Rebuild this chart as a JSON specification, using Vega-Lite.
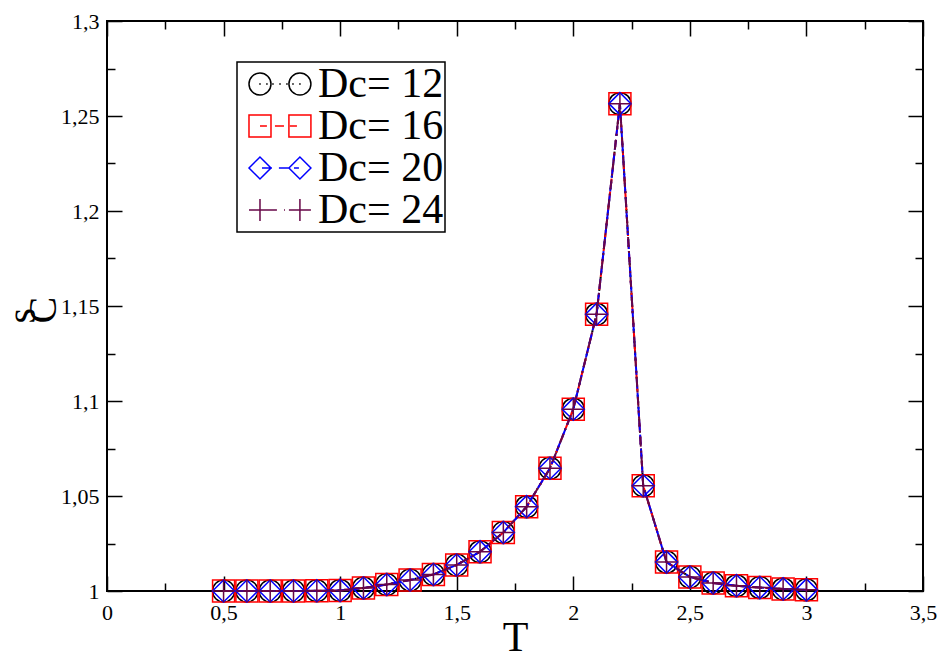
{
  "$schema": "https://vega.github.io/schema/vega-lite/v6.json",
  "width": 816,
  "height": 570,
  "autosize": "none",
  "padding": {"left": 107, "top": 21, "right": 16, "bottom": 68},
  "background": "white",
  "config": {
    "view": {"stroke": "black", "strokeWidth": 2},
    "legend": {"strokeWidth": 1.5},
    "axis": {
      "grid": false,
      "domain": false,
      "labelColor": "black",
      "titleColor": "black",
      "tickColor": "black",
      "tickWidth": 1.5,
      "titleFontWeight": "normal",
      "labelFlush": false,
      "labelOverlap": false
    }
  },
  "datasets": {
    "entropy": [
      {"Dc": 12, "T": 0.5, "s": 1.0000}, {"Dc": 12, "T": 0.6, "s": 1.0000}, {"Dc": 12, "T": 0.7, "s": 1.0000}, {"Dc": 12, "T": 0.8, "s": 1.0000}, {"Dc": 12, "T": 0.9, "s": 1.0001}, {"Dc": 12, "T": 1.0, "s": 1.0003}, {"Dc": 12, "T": 1.1, "s": 1.0016}, {"Dc": 12, "T": 1.2, "s": 1.0034}, {"Dc": 12, "T": 1.3, "s": 1.0058}, {"Dc": 12, "T": 1.4, "s": 1.0087}, {"Dc": 12, "T": 1.5, "s": 1.0137}, {"Dc": 12, "T": 1.6, "s": 1.0207}, {"Dc": 12, "T": 1.7, "s": 1.0308}, {"Dc": 12, "T": 1.8, "s": 1.0444}, {"Dc": 12, "T": 1.9, "s": 1.0646}, {"Dc": 12, "T": 2.0, "s": 1.0957}, {"Dc": 12, "T": 2.1, "s": 1.1457}, {"Dc": 12, "T": 2.2, "s": 1.2565}, {"Dc": 12, "T": 2.3, "s": 1.0554}, {"Dc": 12, "T": 2.4, "s": 1.0152}, {"Dc": 12, "T": 2.5, "s": 1.0074}, {"Dc": 12, "T": 2.6, "s": 1.0042}, {"Dc": 12, "T": 2.7, "s": 1.0028}, {"Dc": 12, "T": 2.8, "s": 1.0018}, {"Dc": 12, "T": 2.9, "s": 1.0011}, {"Dc": 12, "T": 3.0, "s": 1.0006},
      {"Dc": 16, "T": 0.5, "s": 1.0000}, {"Dc": 16, "T": 0.6, "s": 1.0000}, {"Dc": 16, "T": 0.7, "s": 1.0000}, {"Dc": 16, "T": 0.8, "s": 1.0000}, {"Dc": 16, "T": 0.9, "s": 1.0001}, {"Dc": 16, "T": 1.0, "s": 1.0003}, {"Dc": 16, "T": 1.1, "s": 1.0016}, {"Dc": 16, "T": 1.2, "s": 1.0034}, {"Dc": 16, "T": 1.3, "s": 1.0058}, {"Dc": 16, "T": 1.4, "s": 1.0087}, {"Dc": 16, "T": 1.5, "s": 1.0137}, {"Dc": 16, "T": 1.6, "s": 1.0207}, {"Dc": 16, "T": 1.7, "s": 1.0308}, {"Dc": 16, "T": 1.8, "s": 1.0444}, {"Dc": 16, "T": 1.9, "s": 1.0646}, {"Dc": 16, "T": 2.0, "s": 1.0957}, {"Dc": 16, "T": 2.1, "s": 1.1457}, {"Dc": 16, "T": 2.2, "s": 1.2565}, {"Dc": 16, "T": 2.3, "s": 1.0554}, {"Dc": 16, "T": 2.4, "s": 1.0152}, {"Dc": 16, "T": 2.5, "s": 1.0074}, {"Dc": 16, "T": 2.6, "s": 1.0042}, {"Dc": 16, "T": 2.7, "s": 1.0028}, {"Dc": 16, "T": 2.8, "s": 1.0018}, {"Dc": 16, "T": 2.9, "s": 1.0011}, {"Dc": 16, "T": 3.0, "s": 1.0006},
      {"Dc": 20, "T": 0.5, "s": 1.0000}, {"Dc": 20, "T": 0.6, "s": 1.0000}, {"Dc": 20, "T": 0.7, "s": 1.0000}, {"Dc": 20, "T": 0.8, "s": 1.0000}, {"Dc": 20, "T": 0.9, "s": 1.0001}, {"Dc": 20, "T": 1.0, "s": 1.0003}, {"Dc": 20, "T": 1.1, "s": 1.0016}, {"Dc": 20, "T": 1.2, "s": 1.0034}, {"Dc": 20, "T": 1.3, "s": 1.0058}, {"Dc": 20, "T": 1.4, "s": 1.0087}, {"Dc": 20, "T": 1.5, "s": 1.0137}, {"Dc": 20, "T": 1.6, "s": 1.0207}, {"Dc": 20, "T": 1.7, "s": 1.0308}, {"Dc": 20, "T": 1.8, "s": 1.0444}, {"Dc": 20, "T": 1.9, "s": 1.0646}, {"Dc": 20, "T": 2.0, "s": 1.0957}, {"Dc": 20, "T": 2.1, "s": 1.1457}, {"Dc": 20, "T": 2.2, "s": 1.2565}, {"Dc": 20, "T": 2.3, "s": 1.0554}, {"Dc": 20, "T": 2.4, "s": 1.0152}, {"Dc": 20, "T": 2.5, "s": 1.0074}, {"Dc": 20, "T": 2.6, "s": 1.0042}, {"Dc": 20, "T": 2.7, "s": 1.0028}, {"Dc": 20, "T": 2.8, "s": 1.0018}, {"Dc": 20, "T": 2.9, "s": 1.0011}, {"Dc": 20, "T": 3.0, "s": 1.0006},
      {"Dc": 24, "T": 0.5, "s": 1.0000}, {"Dc": 24, "T": 0.6, "s": 1.0000}, {"Dc": 24, "T": 0.7, "s": 1.0000}, {"Dc": 24, "T": 0.8, "s": 1.0000}, {"Dc": 24, "T": 0.9, "s": 1.0001}, {"Dc": 24, "T": 1.0, "s": 1.0003}, {"Dc": 24, "T": 1.1, "s": 1.0016}, {"Dc": 24, "T": 1.2, "s": 1.0034}, {"Dc": 24, "T": 1.3, "s": 1.0058}, {"Dc": 24, "T": 1.4, "s": 1.0087}, {"Dc": 24, "T": 1.5, "s": 1.0137}, {"Dc": 24, "T": 1.6, "s": 1.0207}, {"Dc": 24, "T": 1.7, "s": 1.0308}, {"Dc": 24, "T": 1.8, "s": 1.0444}, {"Dc": 24, "T": 1.9, "s": 1.0646}, {"Dc": 24, "T": 2.0, "s": 1.0957}, {"Dc": 24, "T": 2.1, "s": 1.1457}, {"Dc": 24, "T": 2.2, "s": 1.2565}, {"Dc": 24, "T": 2.3, "s": 1.0554}, {"Dc": 24, "T": 2.4, "s": 1.0152}, {"Dc": 24, "T": 2.5, "s": 1.0074}, {"Dc": 24, "T": 2.6, "s": 1.0042}, {"Dc": 24, "T": 2.7, "s": 1.0028}, {"Dc": 24, "T": 2.8, "s": 1.0018}, {"Dc": 24, "T": 2.9, "s": 1.0011}, {"Dc": 24, "T": 3.0, "s": 1.0006}
    ]
  },
  "data": {"name": "entropy"},
  "resolve": {"axis": {"x": "independent", "y": "independent"}},
  "layer": [
    {
      "transform": [{"filter": "datum.Dc === 12"}],
      "mark": {"type": "line", "color": "#000000", "strokeWidth": 2, "strokeDash": [2, 4]},
      "encoding": {
        "x": {"field": "T", "type": "quantitative", "scale": {"domain": [0, 3.5], "nice": false, "zero": false},
          "axis": {"orient": "bottom", "values": [0, 0.5, 1, 1.5, 2, 2.5, 3, 3.5], "tickSize": -15, "labelPadding": 26,
            "labelFont": "Liberation Serif", "labelFontSize": 22, "titleFont": "Liberation Serif",
            "labelExpr": "replace(format(datum.value, '~g'), '.', ',')", "title": "T", "titleFontSize": 42, "titlePadding": -6}},
        "y": {"field": "s", "type": "quantitative", "scale": {"domain": [1, 1.3], "nice": false, "zero": false},
          "axis": {"orient": "left", "values": [1, 1.05, 1.1, 1.15, 1.2, 1.25, 1.3], "tickSize": -15, "labelPadding": 23,
            "labelFont": "Liberation Serif", "labelFontSize": 22, "titleFont": "Liberation Serif",
            "labelExpr": "replace(format(datum.value, '~g'), '.', ',')",
            "title": ["s", "\u00a0\u00a0\u00a0C"], "titleFontSize": 40, "titleLineHeight": 21, "titleAngle": -90,
            "titleAlign": "left", "titleY": 302, "titlePadding": -3}}
      }
    },
    {
      "transform": [{"filter": "datum.Dc === 12"}],
      "mark": {"type": "point", "shape": "circle", "filled": false, "color": "#000000", "strokeWidth": 1.5, "size": 484, "opacity": 1},
      "encoding": {
        "x": {"field": "T", "type": "quantitative", "scale": {"domain": [0, 3.5], "nice": false, "zero": false},
          "axis": {"orient": "bottom", "values": [0.25, 0.75, 1.25, 1.75, 2.25, 2.75, 3.25], "tickSize": -8, "labels": false, "title": null}},
        "y": {"field": "s", "type": "quantitative", "scale": {"domain": [1, 1.3], "nice": false, "zero": false},
          "axis": {"orient": "left", "values": [1.025, 1.075, 1.125, 1.175, 1.225, 1.275], "tickSize": -8, "labels": false, "title": null}}
      }
    },
    {
      "transform": [{"filter": "datum.Dc === 16"}],
      "mark": {"type": "line", "color": "#ff0000", "strokeWidth": 2, "strokeDash": [8, 5]},
      "encoding": {
        "x": {"field": "T", "type": "quantitative", "scale": {"domain": [0, 3.5], "nice": false, "zero": false},
          "axis": {"orient": "top", "values": [0, 0.5, 1, 1.5, 2, 2.5, 3, 3.5], "tickSize": -15, "labels": false, "title": null}},
        "y": {"field": "s", "type": "quantitative", "scale": {"domain": [1, 1.3], "nice": false, "zero": false},
          "axis": {"orient": "right", "values": [1, 1.05, 1.1, 1.15, 1.2, 1.25, 1.3], "tickSize": -15, "labels": false, "title": null}}
      }
    },
    {
      "transform": [{"filter": "datum.Dc === 16"}],
      "mark": {"type": "point", "shape": "square", "filled": false, "color": "#ff0000", "strokeWidth": 1.5, "size": 484, "opacity": 1},
      "encoding": {
        "x": {"field": "T", "type": "quantitative", "scale": {"domain": [0, 3.5], "nice": false, "zero": false},
          "axis": {"orient": "top", "values": [0.25, 0.75, 1.25, 1.75, 2.25, 2.75, 3.25], "tickSize": -8, "labels": false, "title": null}},
        "y": {"field": "s", "type": "quantitative", "scale": {"domain": [1, 1.3], "nice": false, "zero": false},
          "axis": {"orient": "right", "values": [1.025, 1.075, 1.125, 1.175, 1.225, 1.275], "tickSize": -8, "labels": false, "title": null}}
      }
    },
    {
      "transform": [{"filter": "datum.Dc === 20"}],
      "mark": {"type": "line", "color": "#0000ff", "strokeWidth": 2, "strokeDash": [10, 4]},
      "encoding": {
        "x": {"field": "T", "type": "quantitative", "axis": null},
        "y": {"field": "s", "type": "quantitative", "axis": null}
      }
    },
    {
      "transform": [{"filter": "datum.Dc === 20"}],
      "mark": {"type": "point", "shape": "diamond", "filled": false, "color": "#0000ff", "strokeWidth": 1.5, "size": 484, "opacity": 1},
      "encoding": {
        "x": {"field": "T", "type": "quantitative", "axis": null},
        "y": {"field": "s", "type": "quantitative", "axis": null}
      }
    },
    {
      "transform": [{"filter": "datum.Dc === 24"}],
      "mark": {"type": "line", "color": "#670748", "strokeWidth": 2, "strokeDash": [10, 4, 2, 4]},
      "encoding": {
        "x": {"field": "T", "type": "quantitative", "axis": null},
        "y": {"field": "s", "type": "quantitative", "axis": null}
      }
    },
    {
      "transform": [{"filter": "datum.Dc === 24"}],
      "mark": {"type": "point", "shape": "M-1,0H1M0,-1V1", "filled": false, "color": "#670748", "strokeWidth": 1.5, "size": 484, "opacity": 1},
      "encoding": {
        "x": {"field": "T", "type": "quantitative", "axis": null},
        "y": {"field": "s", "type": "quantitative", "axis": null}
      }
    },
    {
      "mark": {"type": "point", "filled": false, "opacity": 0, "strokeWidth": 1.5, "size": 484},
      "encoding": {
        "shape": {
          "field": "Dc", "type": "nominal",
          "scale": {
            "domain": [12, 16, 20, 24],
            "range": [
              "M1.09,0A1,1 0 1,1 -0.91,0A1,1 0 1,1 1.09,0M4.72,0A1,1 0 1,1 2.72,0A1,1 0 1,1 4.72,0M0.02,0h0.14M0.65,0h0.14M1.2,0h0.14M1.84,0h0.14M2.47,0h0.14M3.02,0h0.14M3.65,0h0.14",
              "M-0.91,-1H1.09V1H-0.91ZM2.72,-1H4.72V1H2.72ZM0.09,0H0.72M1.45,0H2.27M2.81,0H3.45",
              "M-0.91,0L0.09,-1L1.09,0L0.09,1ZM2.72,0L3.72,-1L4.72,0L3.72,1ZM0.27,0H1.18M1.81,0H2.81M3.18,0H3.63",
              "M-0.91,0H1.09M0.09,-1V1M2.72,0H4.72M3.72,-1V1M0.72,0H1.63M2.27,0H2.36M2.81,0H3.72"
            ]
          },
          "legend": {
            "title": null, "orient": "none", "legendX": 130, "legendY": 41,
            "labelExpr": "'Dc= ' + datum.label", "labelFont": "Liberation Serif", "labelFontSize": 42, "labelColor": "black", "labelLimit": 0,
            "symbolSize": 484, "symbolStrokeWidth": 1.5, "symbolOpacity": 1, "labelOffset": 38, "rowPadding": 0, "padding": 1,
            "strokeColor": "black", "fillColor": "white"
          }
        },
        "color": {
          "field": "Dc", "type": "nominal",
          "scale": {"domain": [12, 16, 20, 24], "range": ["#000000", "#ff0000", "#0000ff", "#670748"]},
          "legend": {
            "title": null, "orient": "none", "legendX": 130, "legendY": 41,
            "labelExpr": "'Dc= ' + datum.label", "labelFont": "Liberation Serif", "labelFontSize": 42, "labelColor": "black", "labelLimit": 0,
            "symbolSize": 484, "symbolStrokeWidth": 1.5, "symbolOpacity": 1, "labelOffset": 38, "rowPadding": 0, "padding": 1,
            "strokeColor": "black", "fillColor": "white"
          }
        }
      }
    }
  ]
}
